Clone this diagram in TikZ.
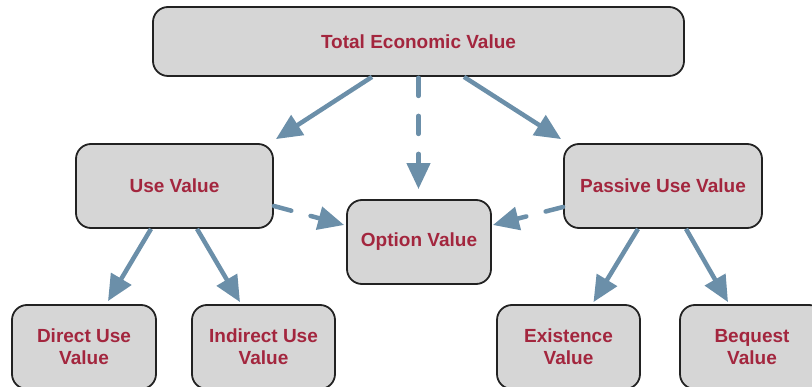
\documentclass[tikz,border=0pt]{standalone}
\usepackage{fontspec}
\setmainfont{Liberation Sans}
\usetikzlibrary{arrows.meta,calc}
\definecolor{boxfill}{HTML}{D6D6D6}
\definecolor{boxline}{HTML}{222222}
\definecolor{txt}{HTML}{A3263E}
\definecolor{arr}{HTML}{6B8FA9}
\begin{document}
\begin{tikzpicture}[x=1pt,y=-1pt,
  vbox/.style={draw=boxline,fill=boxfill,line width=1.8pt,rounded corners=15pt,
    inner sep=0pt,align=center,text=txt,font=\fontsize{19}{22}\selectfont\bfseries},
  link/.style={draw=arr,line width=4.5pt,-{Triangle[length=26pt,width=23pt]}},
  dlink/.style={link,line cap=round,dash pattern=on 18pt off 20pt}]
\useasboundingbox (0,0) rectangle (812,387);
\node[vbox,minimum width=531pt,minimum height=69pt] (tev) at (418.5,41.5) {Total Economic Value};
\node[vbox,minimum width=197pt,minimum height=84pt] (use) at (174.5,186) {Use Value};
\node[vbox,minimum width=144pt,minimum height=84pt] (opt) at (419,242) {Option Value};
\node[vbox,minimum width=198pt,minimum height=84pt] (pas) at (663,186) {Passive Use Value};
\node[vbox,minimum width=144pt,minimum height=84pt] (dir) at (84,347) {Direct Use\\Value};
\node[vbox,minimum width=143pt,minimum height=84pt] (ind) at (263.5,347) {Indirect Use\\Value};
\node[vbox,minimum width=143pt,minimum height=84pt] (exi) at (568.5,347) {Existence\\Value};
\node[vbox,minimum width=144pt,minimum height=84pt] (beq) at (752,347) {Bequest\\Value};
\draw[link] ($(tev.south)+(-46.5,0)$) -- ($(use.north east)+(2,-4)$);
\draw[dlink] ($(tev.south)+(0,1)$) -- ($(opt.north)+(-0.5,-10)$);
\draw[link] ($(tev.south)+(45.5,0)$) -- ($(pas.north west)+(-2,-4)$);
\draw[dlink] ($(use.east)+(0,20)$) -- ($(opt.west)+(-2,-17)$);
\draw[dlink] ($(pas.west)+(0,21)$) -- ($(opt.east)+(1,-17)$);
\draw[link] ($(use.south)+(-23.5,0)$) -- ($(dir.north)+(24,-3)$);
\draw[link] ($(use.south)+(22.5,0)$) -- ($(ind.north)+(-23.5,-2)$);
\draw[link] ($(pas.south)+(-25,0)$) -- ($(exi.north)+(25,-2)$);
\draw[link] ($(pas.south)+(23,0)$) -- ($(beq.north)+(-24,-2)$);
\end{tikzpicture}
\end{document}
